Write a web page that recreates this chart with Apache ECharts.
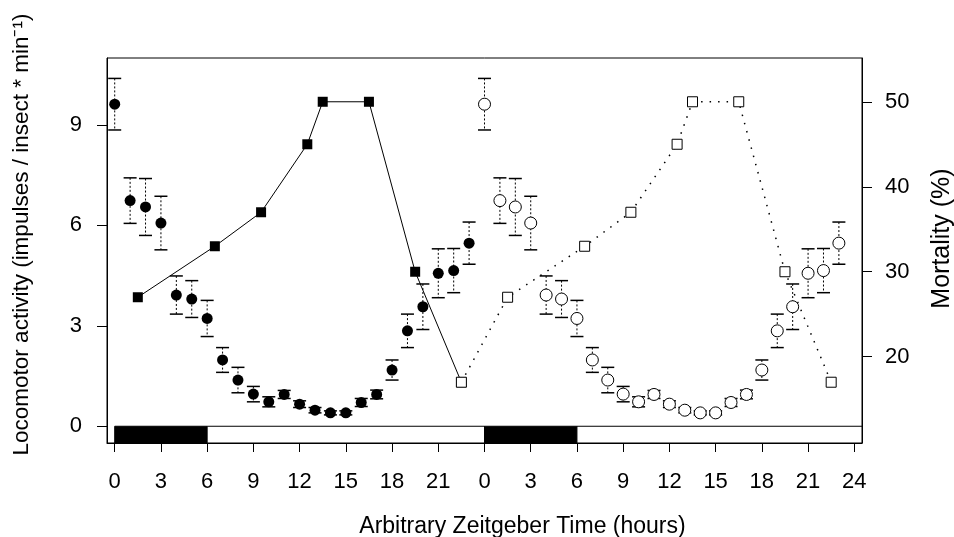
<!DOCTYPE html>
<html>
<head>
<meta charset="utf-8">
<script src="https://cdn.jsdelivr.net/npm/echarts@6/dist/echarts.min.js"></script>
<style>
  html, body { margin: 0; padding: 0; background: #fff; }
  #chart { width: 954px; height: 537px; }
</style>
</head>
<body>
<div id="chart"></div>
<script>
// locomotor activity per hour (day 1, repeated on day 2)
const hours = [0, 1, 2, 3, 4, 5, 6, 7, 8, 9, 10, 11, 12, 13, 14, 15, 16, 17, 18, 19, 20, 21, 22, 23]
const activity = [9.62, 6.74, 6.55, 6.07, 3.92, 3.80, 3.22, 1.98, 1.38, 0.96, 0.73, 0.95,
  0.66, 0.48, 0.40, 0.40, 0.71, 0.95, 1.68, 2.85, 3.57, 4.57, 4.65, 5.47]
const activityErr = [0.77, 0.68, 0.85, 0.80, 0.57, 0.55, 0.54, 0.37, 0.38, 0.23, 0.15, 0.12,
  0.10, 0.08, 0.06, 0.06, 0.12, 0.13, 0.30, 0.50, 0.68, 0.73, 0.66, 0.63]

// mortality (%)
const mortHours = [1.5, 6.5, 9.5, 12.5, 13.5, 16.5, 19.5, 22.5]
const mortality = [27, 33, 37, 45, 50, 50, 30, 17]

// ticks
const xTicks = [0, 3, 6, 9, 12, 15, 18, 21, 24, 27, 30, 33, 36, 39, 42, 45, 48]
const xTickLabels = ['0', '3', '6', '9', '12', '15', '18', '21', '0', '3', '6', '9', '12', '15', '18', '21', '24']
const leftTicks = [0, 3, 6, 9]
const rightTicks = [20, 30, 40, 50]

// light / dark bar
const phaseStart = [0, 6, 24, 30]
const phaseEnd = [6, 24, 30, 48.5]
const phaseDark = [1, 0, 1, 0]

const day2 = 24
const font = 'Liberation Sans, Arial, sans-serif'

const act1 = hours.map((h, i) => [h, activity[i]])
const act2 = hours.map((h, i) => [h + day2, activity[i]])
const err1 = hours.map((h, i) => [h, activity[i] - activityErr[i], activity[i] + activityErr[i]])
const err2 = hours.map((h, i) => [h + day2, activity[i] - activityErr[i], activity[i] + activityErr[i]])
const mort1 = mortHours.map((h, i) => [h, mortality[i]])
const mort2 = mortHours.map((h, i) => [h + day2, mortality[i]])
const phases = phaseStart.map((s, i) => [s, phaseEnd[i], phaseDark[i]])

function errorBars(params, api) {
  const x = api.value(0)
  const top = api.coord([x, api.value(2)])
  const bot = api.coord([x, api.value(1)])
  const w = 6.5
  return {
    type: 'group',
    children: [
      { type: 'line', shape: { x1: top[0], y1: top[1], x2: bot[0], y2: bot[1] },
        style: { stroke: '#000', lineWidth: 1, lineDash: [2, 2] } },
      { type: 'line', shape: { x1: top[0] - w, y1: top[1], x2: top[0] + w, y2: top[1] },
        style: { stroke: '#000', lineWidth: 1.5 } },
      { type: 'line', shape: { x1: bot[0] - w, y1: bot[1], x2: bot[0] + w, y2: bot[1] },
        style: { stroke: '#000', lineWidth: 1.5 } },
    ],
  }
}

function phaseBar(params, api) {
  const a = api.coord([api.value(0), 0])
  const b = api.coord([api.value(1), -0.5])
  return {
    type: 'rect',
    shape: { x: a[0], y: a[1], width: b[0] - a[0], height: b[1] - a[1] },
    style: { fill: api.value(2) ? '#000' : '#fff', stroke: '#000', lineWidth: 1 },
  }
}

const chart = echarts.init(document.getElementById('chart'))
chart.setOption({
  animation: false,
  backgroundColor: '#fff',
  textStyle: { fontFamily: font },
  grid: {
    left: 107, top: 58, right: 92, bottom: 94,
    outerBoundsMode: 'none', containLabel: false,
    show: true, borderColor: '#000', borderWidth: 1,
  },
  xAxis: {
    type: 'value',
    min: -0.5,
    max: 48.5,
    name: 'Arbitrary Zeitgeber Time (hours)',
    nameLocation: 'middle',
    nameGap: 72,
    nameTextStyle: { fontSize: 23, color: '#000', padding: [0, 0, 0, 76] },
    axisLine: { onZero: false, lineStyle: { color: '#000' } },
    axisTick: { customValues: xTicks, length: 9, lineStyle: { color: '#000' } },
    axisLabel: {
      customValues: xTicks,
      formatter: v => xTickLabels[xTicks.indexOf(v)],
      fontSize: 22, color: '#000', margin: 28,
    },
    splitLine: { show: false },
  },
  yAxis: [
    {
      type: 'value',
      min: -0.5,
      max: 11,
      name: 'Locomotor activity (impulses / insect * min\u207B\u00B9)',
      nameLocation: 'middle',
      nameRotate: 90,
      nameGap: 74,
      nameTextStyle: { fontSize: 22.5, color: '#000', padding: [0, 0, 0, 32] },
      axisLine: { onZero: false, lineStyle: { color: '#000' } },
      axisTick: { customValues: leftTicks, length: 10, lineStyle: { color: '#000' } },
      axisLabel: { customValues: leftTicks, fontSize: 22, color: '#000', margin: 25 },
      splitLine: { show: false },
    },
    {
      type: 'value',
      position: 'right',
      min: 9.85,
      max: 55.15,
      name: 'Mortality (%)',
      nameLocation: 'middle',
      nameRotate: 90,
      nameGap: 68,
      nameTextStyle: { fontSize: 25, color: '#000', padding: [0, 0, 0, 24] },
      axisLine: { onZero: false, lineStyle: { color: '#000' } },
      axisTick: { customValues: rightTicks, length: 10, lineStyle: { color: '#000' } },
      axisLabel: { customValues: rightTicks, fontSize: 22, color: '#000', margin: 23 },
      splitLine: { show: false },
    },
  ],
  series: [
    { type: 'custom', renderItem: phaseBar, data: phases, encode: { x: [0, 1] }, yAxisIndex: 0, z: 1 },
    { type: 'custom', renderItem: errorBars, data: err1, encode: { x: 0, y: [1, 2] }, z: 2 },
    { type: 'custom', renderItem: errorBars, data: err2, encode: { x: 0, y: [1, 2] }, z: 2 },
    {
      type: 'line', yAxisIndex: 1, data: mort1, symbol: 'rect', symbolSize: 10,
      lineStyle: { color: '#000', width: 1 }, itemStyle: { color: '#000' }, z: 3,
    },
    {
      type: 'line', yAxisIndex: 1, data: [mort1[mort1.length - 1]].concat(mort2),
      symbol: 'rect', symbolSize: 10, showSymbol: true,
      lineStyle: { color: '#000', width: 1.5, type: [1.5, 7] },
      itemStyle: { color: '#fff', borderColor: '#000', borderWidth: 1 }, z: 3,
    },
    {
      type: 'scatter', data: act1, symbol: 'circle', symbolSize: 11,
      itemStyle: { color: '#000', opacity: 1 }, z: 4,
    },
    {
      type: 'scatter', data: act2, symbol: 'circle', symbolSize: 12,
      itemStyle: { color: '#fff', borderColor: '#000', borderWidth: 1, opacity: 1 }, z: 4,
    },
  ],
})
</script>
</body>
</html>
